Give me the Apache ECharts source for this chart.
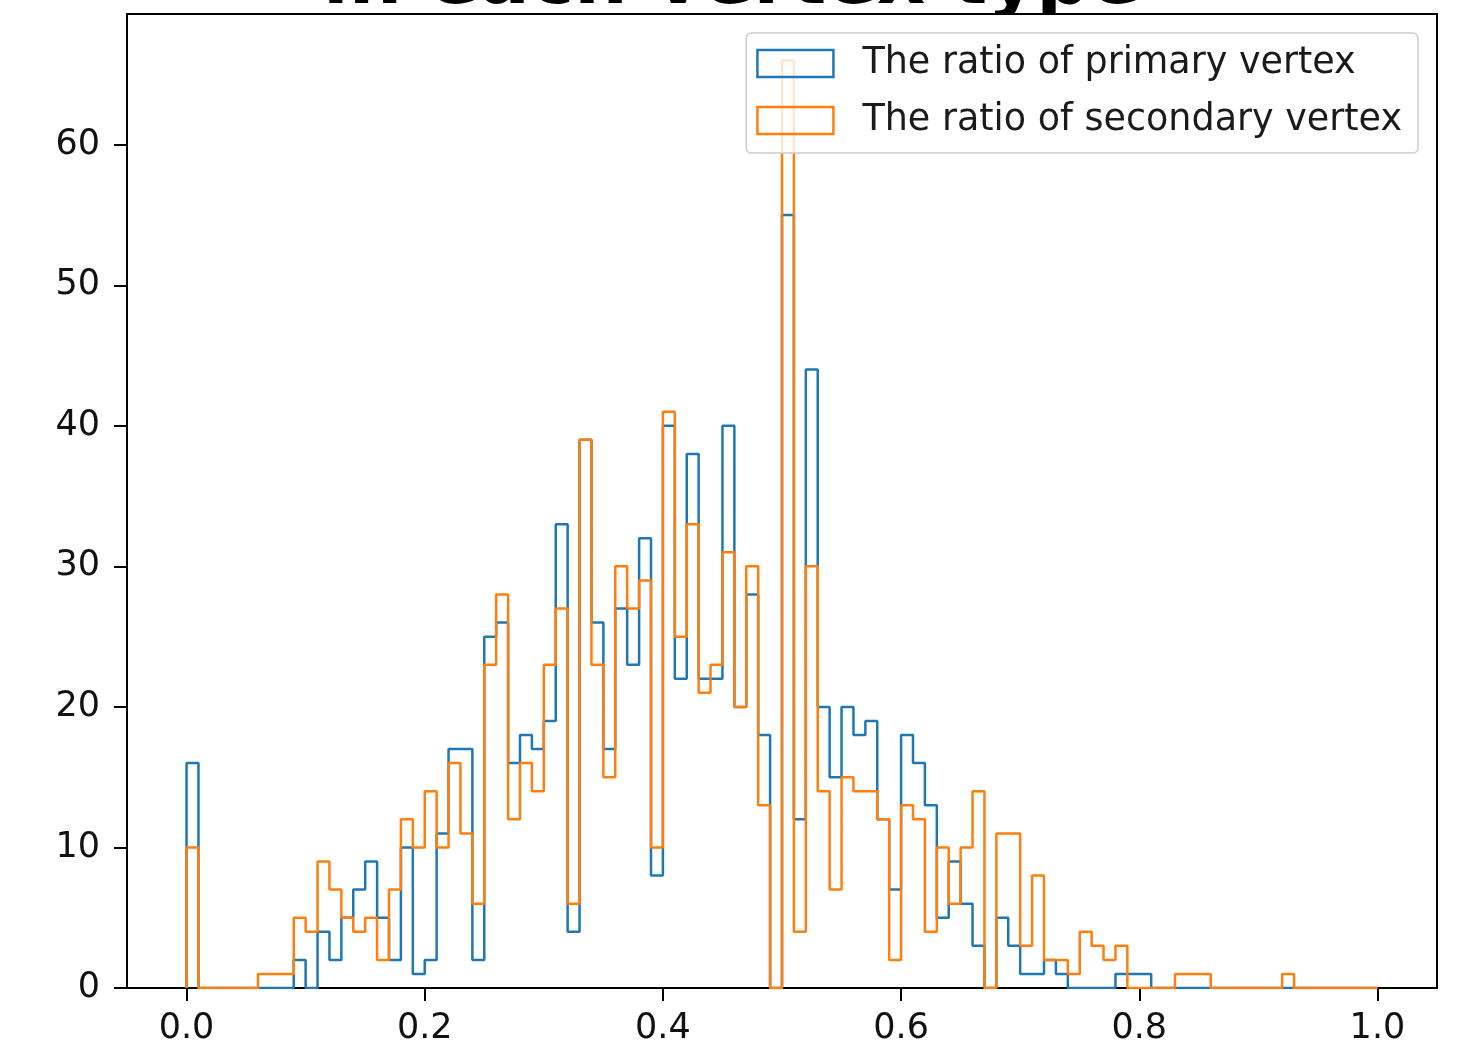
<!DOCTYPE html>
<html>
<head>
<meta charset="utf-8">
<title>vertex ratio histogram</title>
<script src="https://cdn.jsdelivr.net/npm/echarts@6/dist/echarts.min.js"></script>
<style>
  html, body { margin: 0; padding: 0; background: #fff; }
  #chart { width: 1465px; height: 1046px; }
</style>
</head>
<body>
<div id="chart"></div>
<script>
// 100 bins between 0 and 1, counts
const binStart = 0
const binEnd = 1
const primaryCounts = [
  16, 0, 0, 0, 0, 0, 0, 0, 0, 2,
  0, 4, 2, 5, 7, 9, 5, 2, 10, 1,
  2, 11, 17, 17, 2, 25, 26, 16, 18, 17,
  19, 33, 4, 39, 26, 17, 27, 23, 32, 8,
  40, 22, 38, 22, 22, 40, 20, 28, 18, 0,
  55, 12, 44, 20, 15, 20, 18, 19, 12, 7,
  18, 16, 13, 5, 9, 6, 3, 0, 5, 3,
  1, 1, 2, 1, 0, 0, 0, 0, 1, 1,
  1, 0, 0, 0, 0, 0, 0, 0, 0, 0,
  0, 0, 0, 0, 0, 0, 0, 0, 0, 0
]
const secondaryCounts = [
  10, 0, 0, 0, 0, 0, 1, 1, 1, 5,
  4, 9, 7, 5, 4, 5, 2, 7, 12, 10,
  14, 10, 16, 11, 6, 23, 28, 12, 16, 14,
  23, 27, 6, 39, 23, 15, 30, 27, 29, 10,
  41, 25, 33, 21, 23, 31, 20, 30, 13, 0,
  66, 4, 30, 14, 7, 15, 14, 14, 12, 2,
  13, 12, 4, 10, 6, 10, 14, 0, 11, 11,
  3, 8, 2, 2, 1, 4, 3, 2, 3, 0,
  0, 0, 0, 1, 1, 1, 0, 0, 0, 0,
  0, 0, 1, 0, 0, 0, 0, 0, 0, 0
]
const seriesNames = ['The ratio of primary vertex', 'The ratio of secondary vertex']
const xTicks = [0, 0.2, 0.4, 0.6, 0.8, 1.0]
const yTicks = [0, 10, 20, 30, 40, 50, 60]

// outline of a step histogram: one point per left bin edge, closed at the right edge
function stepOutline(counts) {
  const w = (binEnd - binStart) / counts.length
  const pts = [[binStart, 0]]
  counts.forEach((c, i) => pts.push([binStart + i * w, c]))
  pts.push([binEnd, counts[counts.length - 1]])
  pts.push([binEnd, 0])
  return pts
}

const mycharts = echarts.init(document.getElementById('chart'))
const font = 'DejaVu Sans'

mycharts.setOption({
  animation: false,
  textStyle: { fontFamily: font },
  title: {
    text: 'in each vertex type',
    left: 318,
    top: -59,
    z: -10,
    textStyle: { fontFamily: font, fontWeight: 'bold', fontSize: 75, color: '#000' }
  },
  grid: {
    left: 127, right: 28, top: 14, bottom: 56,
    show: true,
    backgroundColor: '#fff',
    borderColor: '#000',
    borderWidth: 2,
    z: 0
  },
  legend: {
    right: 47,
    top: 33,
    orient: 'vertical',
    align: 'left',
    itemWidth: 76,
    itemHeight: 27,
    itemGap: 20,
    padding: [12, 16, 14, 10],
    backgroundColor: 'rgba(255,255,255,0.8)',
    borderColor: '#cccccc',
    borderWidth: 1.5,
    borderRadius: 5,
    textStyle: { fontFamily: font, fontSize: 36.5, color: '#1a1a1a', padding: [0, 0, 0, 24] },
    data: [
      { name: seriesNames[0], icon: 'rect', itemStyle: { color: 'transparent', borderColor: '#1f77b4', borderWidth: 2.5 } },
      { name: seriesNames[1], icon: 'rect', itemStyle: { color: 'transparent', borderColor: '#ff7f0e', borderWidth: 2.5 } }
    ]
  },
  xAxis: {
    type: 'value',
    min: -0.05,
    max: 1.05,
    splitLine: { show: false },
    axisLine: { show: false, onZero: false },
    axisTick: { show: true, length: 13, lineStyle: { color: '#000', width: 2 }, customValues: xTicks },
    axisLabel: {
      customValues: xTicks,
      margin: 23,
      fontSize: 35,
      color: '#111',
      fontFamily: font,
      formatter: v => v.toFixed(1)
    }
  },
  yAxis: {
    type: 'value',
    min: 0,
    max: 69.3,
    splitLine: { show: false },
    axisLine: { show: false, onZero: false },
    axisTick: { show: true, length: 13, lineStyle: { color: '#000', width: 2 }, customValues: yTicks },
    axisLabel: {
      customValues: yTicks,
      margin: 27,
      fontSize: 35,
      color: '#111',
      fontFamily: font
    }
  },
  series: [
    {
      name: seriesNames[0],
      type: 'line',
      step: 'end',
      symbol: 'none',
      data: stepOutline(primaryCounts),
      lineStyle: { color: '#1f77b4', width: 2.5 },
      itemStyle: { color: '#1f77b4' },
      z: 2
    },
    {
      name: seriesNames[1],
      type: 'line',
      step: 'end',
      symbol: 'none',
      data: stepOutline(secondaryCounts),
      lineStyle: { color: '#ff7f0e', width: 2.5 },
      itemStyle: { color: '#ff7f0e' },
      z: 3
    }
  ]
})
</script>
</body>
</html>
